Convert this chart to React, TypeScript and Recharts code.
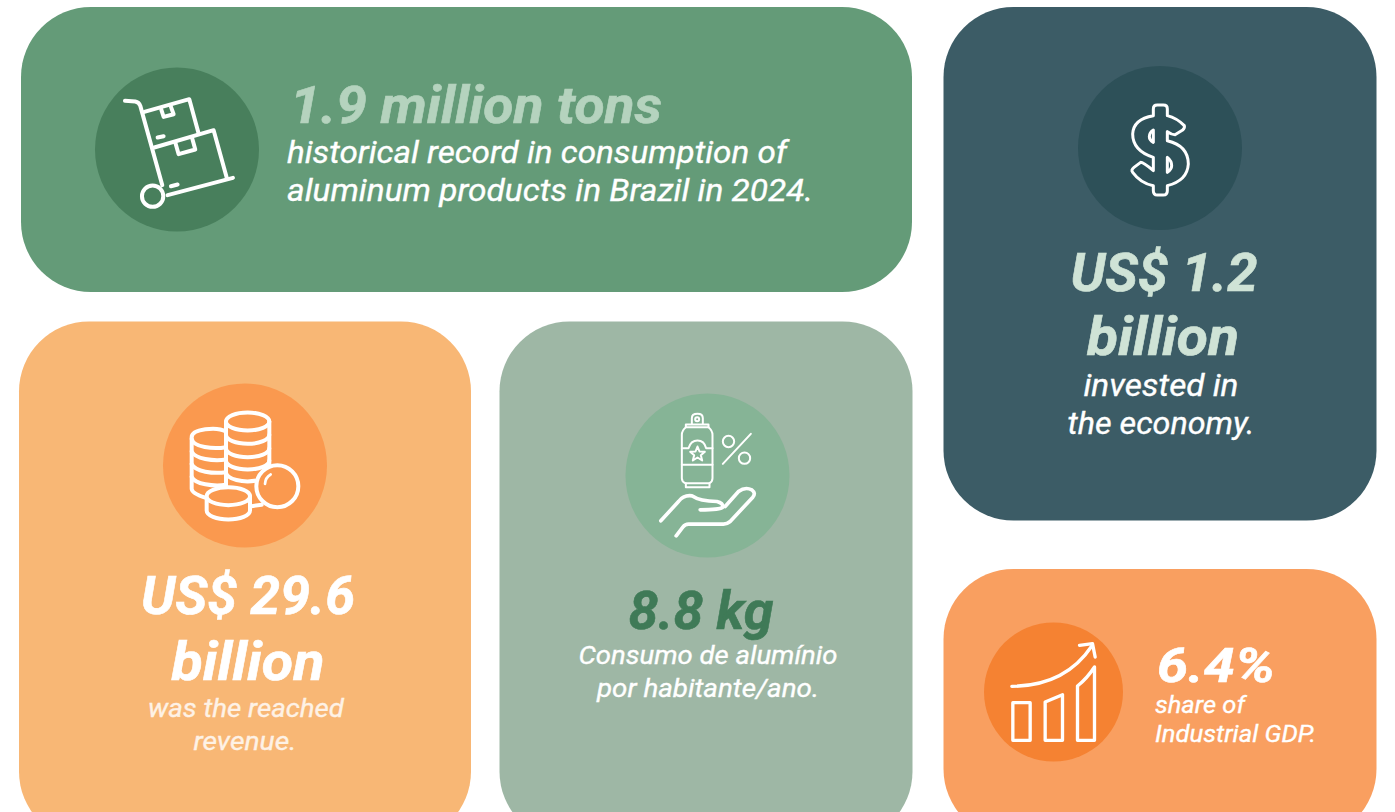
import { ScatterChart, Scatter, XAxis, YAxis } from 'recharts';

// figures and wording of the five tiles
const tileKeys = ['consumption', 'investment', 'revenue', 'perCapita', 'gdpShare'];
const metricValues = ['1.9', '1.2', '29.6', '8.8', '6.4'];
const headlines = [
  ['1.9 million tons'],
  ['US$ 1.2', 'billion'],
  ['US$ 29.6', 'billion'],
  ['8.8 kg'],
  ['6.4%'],
];
const captions = [
  ['historical record in consumption of', 'aluminum products in Brazil in 2024.'],
  ['invested in', 'the economy.'],
  ['was the reached', 'revenue.'],
  ['Consumo de alumínio', 'por habitante/ano.'],
  ['share of', 'Industrial GDP.'],
];

const FONT = 'Roboto, sans-serif';

// layout only: tile box, icon disc, text lines as [x, baseline, width, size]
const layout: Record<string, any> = {
  consumption: {
    box: [21, 7, 891, 285], fill: '#649B78', disc: [177, 149.5, 82], discFill: '#487F5C',
    anchor: 'start', headFill: '#B5D3BE', capFill: '#FFFFFF',
    head: [[290, 123, 372, 52]],
    cap: [[287, 163, 500, 31], [287, 201, 526, 31]],
  },
  investment: {
    box: [943.5, 7, 433, 513.5], fill: '#3C5C66', disc: [1160, 148, 82], discFill: '#2D5058',
    anchor: 'middle', headFill: '#CFE3D6', capFill: '#FFFFFF',
    head: [[1164, 291, 187, 54], [1163, 355, 152, 54]],
    cap: [[1161, 396, 155, 31], [1161, 434, 187, 31]],
  },
  revenue: {
    box: [19, 321.5, 452, 520], fill: '#F8B775', disc: [245, 465.5, 82], discFill: '#FA994F',
    anchor: 'middle', headFill: '#FFFFFF', capFill: '#FEF2E6',
    head: [[248, 614, 214, 54], [248, 680, 153, 54]],
    cap: [[246, 717, 196, 26], [245, 750, 103, 26]],
  },
  perCapita: {
    box: [499.5, 321.5, 413, 520], fill: '#9EB7A5', disc: [707.5, 475.5, 82], discFill: '#86B496',
    anchor: 'middle', headFill: '#3F7A57', capFill: '#FFFFFF',
    head: [[701, 629, 145, 54]],
    cap: [[708, 664, 259, 26], [708, 697, 222, 26]],
  },
  gdpShare: {
    box: [943.5, 569, 433, 270], fill: '#F99F60', disc: [1053.5, 692, 69.5], discFill: '#F58232',
    anchor: 'start', headFill: '#FFFFFF', capFill: '#FFFFFF',
    head: [[1157, 682, 118, 48]],
    cap: [[1155, 713, 90, 24], [1155, 742, 161, 24]],
  },
};

// line icons, traced in their own local units and centred on the disc
const iconStyle = { fill: 'none', stroke: '#FFFFFF', strokeLinecap: 'round', strokeLinejoin: 'round' } as const;

function TrolleyIcon({ fill }: { fill: string }) {
  return (
    <g {...iconStyle} strokeWidth={12} transform="translate(-96.7,-99.3) scale(0.3333)">
      <path d="M134 152 L165 154 Q176 156 180 167 L246 405" />
      <path d="M192 185 L327 147 L355 250" />
      <path d="M243 178 L250 200 L280 192 L272 170" />
      <path d="M232 262 L250 258" />
      <path d="M222 292 L400 240 L440 385" />
      <path d="M285 277 L295 312 L345 298 L335 262" />
      <path d="M272 408 L292 403" />
      <path d="M262 435 L458 383" />
      <circle cx={217} cy={438} r={32} fill={fill} />
    </g>
  );
}

function DollarIcon() {
  return (
    <g {...iconStyle} strokeWidth={9} transform="scale(0.3333) translate(-270,-262)">
      <path d="M250 165 V145 Q250 133 262 133 H280 Q292 133 292 145 V165 Q320 172 343 195 Q345 202 338 208 L315 222 Q305 222 292 213 V240 Q355 255 355 310 Q352 360 292 375 V390 Q292 403 280 403 H262 Q250 403 250 390 V375 Q212 368 188 335 Q182 328 192 320 L212 305 Q220 305 250 330 V290 Q188 270 188 220 Q190 175 250 165 Z" />
      <path d="M250 208 Q238 215 238 228 Q238 238 250 245 Z" />
      <path d="M292 290 Q305 300 305 315 Q305 325 292 335 Z" />
    </g>
  );
}

function CoinsIcon({ fill }: { fill: string }) {
  return (
    <g {...iconStyle} strokeWidth={12} transform="scale(0.3333) translate(-285,-270)">
      <path d="M228 168 C200 152 125 160 125 185 V340 C125 352 150 362 170 368" />
      <path d="M125 190 C130 215 190 222 228 215" />
      <path d="M125 228 C135 250 190 258 228 252" />
      <path d="M125 266 C135 288 190 296 228 290" />
      <path d="M125 304 C135 326 190 334 228 328" />
      <ellipse cx={293} cy={138} rx={65} ry={27} />
      <path d="M228 138 V335 M358 138 V270" />
      <path d="M228 178 A65 27 0 0 0 358 178" />
      <path d="M228 218 A65 27 0 0 0 358 218" />
      <path d="M228 255 A65 27 0 0 0 358 255" />
      <path d="M228 292 A65 27 0 0 0 320 315" />
      <path d="M305 392 L335 388" />
      <circle cx={382} cy={332} r={63} fill={fill} />
      <path d="M345 325 Q346 306 362 297" strokeWidth={8} />
      <path d="M170 362 V405 A65 27 0 0 0 300 405 V362" fill={fill} />
      <ellipse cx={235} cy={362} rx={65} ry={27} fill={fill} />
    </g>
  );
}

function CanIcon() {
  return (
    <g {...iconStyle} strokeWidth={6} transform="scale(0.3333) translate(-262,-257)">
      <path d="M185 135 Q185 122 197 112 H265 Q277 122 277 135 V265 Q277 275 268 280 H195 Q185 275 185 265 Z" />
      <path d="M197 280 V292 H268 V280" />
      <path d="M197 112 V104 H265 V112" />
      <path d="M185 225 H277" />
      <path d="M185 175 H205 Q212 152 232 152 Q252 152 258 175 H277" />
      <path d="M232 170 L238 185 L254 186 L242 196 L246 212 L232 203 L218 212 L222 196 L210 186 L226 185 Z" />
      <path d="M215 102 V85 Q215 72 232 72 Q248 72 248 85 V102" />
      <circle cx={231} cy={88} r={6} />
      <circle cx={325} cy={155} r={17} />
      <circle cx={373} cy={205} r={17} />
      <path d="M308 222 L392 132" />
      <g strokeWidth={11}>
        <path d="M122 393 L175 335 Q190 315 215 318 Q240 335 290 335 Q310 340 308 352 Q300 360 240 360" />
        <path d="M315 350 L355 305 Q375 290 395 300 Q408 310 398 322 L330 395 Q320 403 310 403 H205 Q195 403 188 412 L168 438" />
      </g>
    </g>
  );
}

function GrowthIcon() {
  return (
    <g {...iconStyle} strokeWidth={10} transform="scale(0.3333) translate(-235,-230)">
      <path d="M110 213 Q270 212 350 92" />
      <path d="M313 90 L352 85 L360 125" />
      <path d="M113 262 H165 V375 H113 Z" />
      <path d="M210 260 L262 238 V375 H210 Z" />
      <path d="M307 212 Q335 190 358 155 V375 H307 Z" />
    </g>
  );
}

function TileIcon({ tile, fill }: { tile: string; fill: string }) {
  if (tile === 'consumption') return <TrolleyIcon fill={fill} />;
  if (tile === 'investment') return <DollarIcon />;
  if (tile === 'revenue') return <CoinsIcon fill={fill} />;
  if (tile === 'perCapita') return <CanIcon />;
  return <GrowthIcon />;
}

function TextLine({ text, spec, anchor, fill, weight, outline }: any) {
  const [x, y, width, size] = spec;
  return (
    <text
      x={x}
      y={y}
      fill={fill}
      stroke={outline ? fill : 'none'}
      strokeWidth={outline}
      fontFamily={FONT}
      fontSize={size}
      fontStyle="italic"
      fontWeight={weight}
      textAnchor={anchor}
      textLength={width}
      lengthAdjust="spacingAndGlyphs"
    >
      {text}
    </text>
  );
}

// one tile, placed where the chart's scales put its point (the disc centre)
function Tile(props: any) {
  const { cx, cy, payload } = props;
  const spec = layout[payload.tile];
  const [bx, by, bw, bh] = spec.box;
  const dr = spec.disc[2];
  return (
    <g>
      <rect x={bx} y={by} width={bw} height={bh} rx={70} ry={70} fill={spec.fill} />
      <circle cx={cx} cy={cy} r={dr} fill={spec.discFill} />
      <g transform={`translate(${cx},${cy})`}>
        <TileIcon tile={payload.tile} fill={spec.discFill} />
      </g>
      {payload.headline.map((text: string, i: number) => (
        <TextLine key={text} text={text} spec={spec.head[i]} anchor={spec.anchor} fill={spec.headFill} weight={700} outline={0.6} />
      ))}
      {payload.caption.map((text: string, i: number) => (
        <TextLine key={text} text={text} spec={spec.cap[i]} anchor={spec.anchor} fill={spec.capFill} weight={400} outline={0.35} />
      ))}
    </g>
  );
}

const tiles = tileKeys.map((tile, i) => ({
  tile,
  value: metricValues[i],
  headline: headlines[i],
  caption: captions[i],
  x: layout[tile].disc[0],
  y: layout[tile].disc[1],
}));

export default function App() {
  return (
    <div style={{ position: 'absolute', left: 0, top: 0, width: 1395, height: 812, overflow: 'hidden', background: '#fff' }}>
      <ScatterChart width={1395} height={812} margin={{ top: 0, right: 0, bottom: 0, left: 0 }}>
        <XAxis type="number" dataKey="x" domain={[0, 1395]} hide />
        <YAxis type="number" dataKey="y" domain={[0, 812]} reversed hide />
        <Scatter data={tiles} shape={Tile} isAnimationActive={false} />
      </ScatterChart>
    </div>
  );
}
